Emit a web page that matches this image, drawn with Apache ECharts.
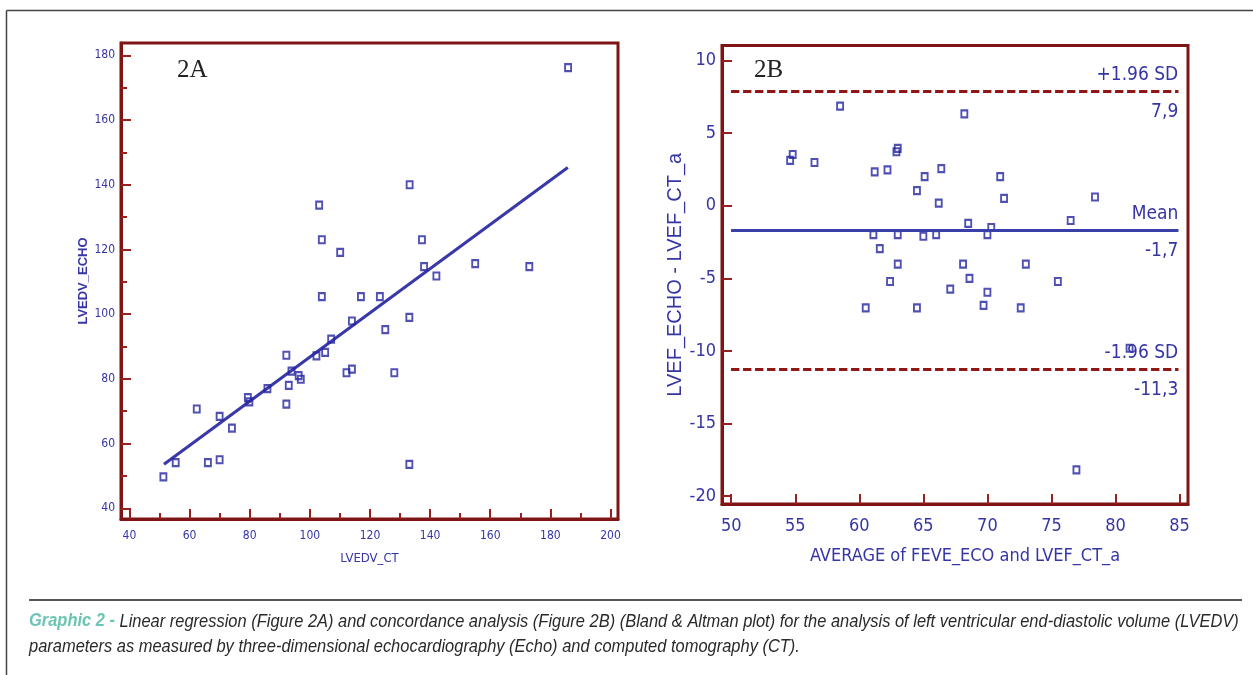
<!DOCTYPE html>
<html>
<head>
<meta charset="utf-8">
<script src="https://cdn.jsdelivr.net/npm/echarts@6/dist/echarts.min.js"></script>
<style>
  html, body { margin: 0; padding: 0; background: #fff; }
  #chart { width: 1253px; height: 675px; }
</style>
</head>
<body>
<div id="chart"></div>
<script>
// Figure 2A: LVEDV by CT (x) vs by 3D echo (y)
const ctVolume = [185.9, 133.2, 103.1, 104.0, 110.1, 137.3, 138.0, 142.1, 155.0, 173.0,
  104.0, 117.0, 123.3, 114.0, 133.1, 125.1, 107.1, 92.2, 102.2, 105.1,
  93.9, 96.3, 97.0, 93.0, 92.2, 112.2, 114.0, 128.1, 85.9, 79.4,
  79.9, 62.4, 70.0, 74.1, 55.4, 66.1, 70.0, 51.3, 133.1];
const echoVolume = [176.2, 140.0, 133.7, 123.0, 119.1, 123.0, 114.7, 111.8, 115.6, 114.7,
  105.4, 105.4, 105.4, 97.9, 99.0, 95.2, 92.3, 87.3, 87.1, 88.2,
  82.4, 81.0, 79.9, 78.0, 72.2, 81.9, 83.0, 81.9, 77.0, 74.2,
  72.9, 70.7, 68.4, 64.8, 54.1, 54.1, 55.0, 49.7, 53.6];
// regression line end points
const regX = [51.5, 185.8];
const regY = [53.6, 145.3];

// Figure 2B: Bland-Altman, mean of the two methods (x) vs difference (y)
const avgEF = [58.5, 68.2, 54.6, 54.8, 56.5, 63.0, 62.9, 61.2, 62.2, 65.1,
  66.4, 64.5, 71.0, 71.3, 66.2, 78.4, 76.5, 68.5, 70.3, 70.0,
  61.1, 63.0, 65.0, 66.0, 61.6, 63.0, 68.1, 73.0, 62.4, 68.6,
  75.5, 67.1, 70.0, 60.5, 64.5, 69.7, 72.6, 81.1, 76.95];
const diffEF = [6.86, 6.33, 3.12, 3.53, 2.98, 3.95, 3.72, 2.33, 2.47, 2.01,
  2.56, 1.04, 2.01, 0.51, 0.18, 0.60, -1.02, -1.22, -1.50, -1.99,
  -1.99, -1.99, -2.10, -1.99, -2.96, -4.02, -4.02, -4.02, -5.22, -5.01,
  -5.22, -5.75, -5.96, -7.04, -7.04, -6.86, -7.04, -9.82, -18.2];
const upperLoA = 7.9, meanDiff = -1.7, lowerLoA = -11.3;
const limitSpan = [50, 84.9];

// tick labels
const ticksA_x = [40, 60, 80, 100, 120, 140, 160, 180, 200];
const minorA_x = [50, 70, 90, 110, 130, 150, 170, 190];
const ticksA_y = [40, 60, 80, 100, 120, 140, 160, 180];
const minorA_y = [50, 70, 90, 110, 130, 150, 170];
const ticksB_x = [50, 55, 60, 65, 70, 75, 80, 85];
const ticksB_y = [-20, -15, -10, -5, 0, 5, 10];

const frameRed = '#7e1414';
const tickRed = '#9a2020';
const labelBlue = '#3535a5';
const pointBlue = '#2424a0';
const narrow = '"DejaVu Sans Condensed", "Liberation Sans Narrow", "Arial Narrow", sans-serif';

const zip = (a, b) => a.map((v, i) => [v, b[i]]);

function valAxis(grid, min, max, labels, ticks, tickLen, fontSize, margin, extra) {
  return Object.assign({
    type: 'value', gridIndex: grid, min: min, max: max,
    splitLine: { show: false },
    axisLine: { show: true, onZero: false, lineStyle: { color: frameRed, width: 3 } },
    axisTick: { show: true, inside: true, length: tickLen, customValues: ticks, lineStyle: { color: tickRed, width: 2 } },
    axisLabel: { show: labels.length > 0, customValues: labels, margin: margin, color: labelBlue,
      fontFamily: narrow, fontSize: fontSize }
  }, extra || {});
}
function minorAxis(grid, pos, min, max, ticks) {
  return {
    type: 'value', gridIndex: grid, position: pos, min: min, max: max,
    splitLine: { show: false }, axisLine: { show: false, onZero: false }, axisLabel: { show: false },
    axisTick: { show: true, inside: true, length: 6, customValues: ticks, lineStyle: { color: tickRed, width: 2 } }
  };
}

const limitLine = (y, top, bottom, style) => [
  [{ coord: [limitSpan[0], y], label: { formatter: top, position: 'insideEndTop', distance: [0, 7] }, lineStyle: style },
   { coord: [limitSpan[1], y] }],
  [{ coord: [limitSpan[0], y], label: { formatter: bottom, position: 'insideEndBottom', distance: [0, 11] }, lineStyle: style },
   { coord: [limitSpan[1], y] }]
];
const dashedRed = { color: '#8e1818', width: 3, type: [8, 4] };
const solidBlue = { color: '#3840a8', width: 3, type: 'solid' };

const chart = echarts.init(document.getElementById('chart'));
chart.setOption({
  animation: false,
  grid: [
    { left: 121, top: 43, width: 497, height: 476, show: true, borderColor: frameRed, borderWidth: 3, backgroundColor: '#fff' },
    { left: 722, top: 45.5, width: 466, height: 458.5, show: true, borderColor: frameRed, borderWidth: 3, backgroundColor: '#fff' }
  ],
  xAxis: [
    valAxis(0, 37.2, 202.5, ticksA_x, ticksA_x, 10, 12, 11, {
      name: 'LVEDV_CT', nameLocation: 'middle', nameGap: 33,
      nameTextStyle: { color: labelBlue, fontFamily: narrow, fontSize: 13 } }),
    valAxis(1, 49.28, 85.66, ticksB_x, ticksB_x, 10, 18, 13, {
      name: 'AVERAGE of FEVE_ECO and LVEF_CT_a', nameLocation: 'middle', nameGap: 43,
      nameTextStyle: { color: labelBlue, fontFamily: narrow, fontSize: 18, padding: [0, 0, 0, 20] } }),
    minorAxis(0, 'bottom', 37.2, 202.5, minorA_x)
  ],
  yAxis: [
    valAxis(0, 36.7, 183.8, ticksA_y, ticksA_y, 10, 12, 6, {
      name: 'LVEDV_ECHO', nameLocation: 'middle', nameGap: 31,
      nameTextStyle: { color: labelBlue, fontFamily: 'Liberation Sans, Arial, sans-serif', fontSize: 13, fontWeight: 'bold' } }),
    valAxis(1, -20.55, 11.04, ticksB_y, ticksB_y, 10, 18, 6, {
      name: 'LVEF_ECHO - LVEF_CT_a', nameLocation: 'middle', nameGap: 37,
      nameTextStyle: { color: labelBlue, fontFamily: 'Liberation Sans, Arial, sans-serif', fontSize: 20 } }),
    minorAxis(0, 'left', 36.7, 183.8, minorA_y)
  ],
  graphic: [
    { type: 'line', shape: { x1: 6.5, y1: 10.5, x2: 1253, y2: 10.5 }, style: { stroke: '#444', lineWidth: 1.5 } },
    { type: 'line', shape: { x1: 6.5, y1: 10.5, x2: 6.5, y2: 675 }, style: { stroke: '#444', lineWidth: 1.5 } },
    { type: 'line', shape: { x1: 29, y1: 600, x2: 1242, y2: 600 }, style: { stroke: '#555', lineWidth: 2 } },
    { type: 'text', left: 177, top: 58, z: 10,
      style: { text: '2A', font: '25px "Liberation Serif", serif', fill: '#222' } },
    { type: 'text', left: 754, top: 58, z: 10,
      style: { text: '2B', font: '25px "Liberation Serif", serif', fill: '#222' } },
    { type: 'text', x: 29, y: 609, scaleX: 0.914, originX: 0,
      style: {
        text: '{t|Graphic 2 - }{b|Linear regression (Figure 2A) and concordance analysis (Figure 2B) (Bland & Altman plot) for the analysis of left ventricular end-diastolic volume (LVEDV)}\n{b|parameters as measured by three-dimensional echocardiography (Echo) and computed tomography (CT).}',
        rich: {
          t: { fontFamily: 'Liberation Sans, Arial, sans-serif', fontStyle: 'italic', fontWeight: 'bold', fontSize: 18, fill: '#6cc4b4', lineHeight: 25 },
          b: { fontFamily: 'Liberation Sans, Arial, sans-serif', fontStyle: 'italic', fontSize: 18, fill: '#2a2a2a', lineHeight: 25 }
        }
      } }
  ],
  series: [
    {
      type: 'line', xAxisIndex: 0, yAxisIndex: 0, data: zip(regX, regY),
      symbol: 'none', lineStyle: { color: '#3838a8', width: 3 }, z: 3
    },
    {
      type: 'scatter', xAxisIndex: 0, yAxisIndex: 0, data: zip(ctVolume, echoVolume),
      symbol: 'rect', symbolSize: [6, 7],
      itemStyle: { color: 'rgba(255,255,255,0)', borderColor: pointBlue, borderWidth: 2 }, z: 4
    },
    {
      type: 'scatter', xAxisIndex: 1, yAxisIndex: 1, data: zip(avgEF, diffEF),
      symbol: 'rect', symbolSize: [6, 7],
      itemStyle: { color: 'rgba(255,255,255,0)', borderColor: pointBlue, borderWidth: 2 }, z: 4,
      markLine: {
        silent: true, symbol: 'none', animation: false,
        label: { color: labelBlue, fontFamily: narrow, fontSize: 19 },
        data: [
          ...limitLine(upperLoA, '+1.96 SD', '7,9', dashedRed),
          ...limitLine(meanDiff, 'Mean', '-1,7', solidBlue),
          ...limitLine(lowerLoA, '-1.96 SD', '-11,3', dashedRed)
        ]
      }
    }
  ]
});
</script>
</body>
</html>
